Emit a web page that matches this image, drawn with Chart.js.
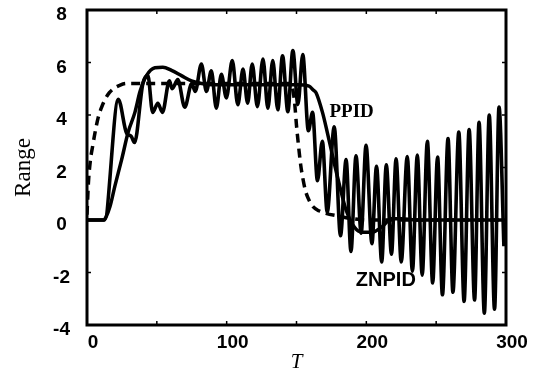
<!DOCTYPE html>
<html>
<head>
<meta charset="utf-8">
<script src="https://cdn.jsdelivr.net/npm/chart.js@4.4.1/dist/chart.umd.min.js"></script>
<style>
  html, body { margin: 0; padding: 0; background: #fff; }
  #wrap { width: 542px; height: 375px; }
</style>
</head>
<body>
<div id="wrap"><canvas id="rangeChart" width="542" height="375"></canvas></div>
<script>
/* ====== data: [T, Range] ====== */
const xTicks = [0, 100, 200, 300];
const yTicks = [-4, -2, 0, 2, 4, 6, 8];

// dashed reference trajectory
const reference = [
  [0, 0.2], [1, 1.4], [2.5, 2.3], [4, 2.8], [6, 3.4], [8, 3.9], [10.5, 4.3], [13, 4.6],
  [16, 4.85], [19, 5.0], [23, 5.12], [28, 5.2], [40, 5.2], [100, 5.2], [145, 5.2],
  [147, 5.05], [148.6, 4.5], [150, 3.6], [151.5, 2.8], [153, 2.1], [154.5, 1.6],
  [156.5, 1.1], [159, 0.75], [162, 0.5], [166, 0.35], [171, 0.25], [180, 0.15],
  [190, 0.05], [200, 0], [300, 0]
];

// smooth solid curve (PPID)
const ppid = [
  [0, 0], [12, 0], [13.5, 0.1], [16.4, 0.5], [20, 1.3], [24.8, 2.3], [29.5, 3.35],
  [34.3, 4.1], [38, 4.9], [42.6, 5.5], [48.6, 5.8], [54.3, 5.82], [60.5, 5.7],
  [67.6, 5.5], [74.8, 5.3], [82, 5.2], [90, 5.15], [150, 5.15], [159, 5.1],
  [162, 4.95], [164, 4.85], [168.6, 4.1], [172, 3.35], [175.8, 2.45], [181, 1.28],
  [185.5, 0.38], [191.4, -0.27], [197, -0.47], [204, -0.47], [211, -0.27],
  [218, 0.05], [225, 0.05], [235, 0], [300, 0]
];

// oscillating solid curve (ZNPID)
const znpid = [
  [0, 0], [12.5, 0], [22.4, 4.6], [28.4, 3.3], [31.5, 3.2], [34, 2.95], [40, 5.2],
  [43.6, 5.5], [47, 4.1], [50.7, 4.45], [54, 4.1], [59, 5.3], [61, 5.0], [65, 5.35],
  [70, 4.3], [75, 5.2], [77.5, 4.9], [81.9, 5.94], [85.5, 4.9], [89, 5.68],
  [92.6, 4.26], [96.2, 5.55], [99.8, 4.65], [104, 6.07], [108, 4.39], [111.7, 5.75],
  [115, 4.45], [118.3, 5.94], [122, 4.32], [126, 6.13], [129.5, 4.26], [133, 6.07],
  [136.6, 4.2], [140, 6.26], [143.8, 4.13], [147.4, 6.46], [151, 4.4], [154.5, 6.3],
  [158.5, 3.4], [161.5, 4.1], [165, 1.5], [168.5, 3.0], [172, 0.3], [177, 3.55],
  [181.5, -0.6], [185.5, 2.3], [189, -1.2], [192.6, 2.45], [196.3, -0.5], [199.8, 2.85],
  [204, -0.9], [207.3, 2.05], [211, -1.6], [214.3, 2.1], [218, -1.3], [221.3, 2.33],
  [225, -1.6], [229.3, 2.42], [233, -1.95], [236.5, 2.47], [240, -2.1], [243.7, 3.0],
  [247.5, -2.4], [251, 2.4], [254.5, -2.85], [258.5, 3.1], [262, -2.75], [266.2, 3.35],
  [270, -3.1], [273.6, 3.45], [277.5, -3.05], [280.7, 3.72], [284.5, -3.55], [288, 4.0],
  [291.8, -3.4], [295, 4.3], [298.5, -1.0]
];

const toPoints = arr => arr.map(p => ({ x: p[0], y: p[1] }));

/* ====== frame, inward ticks and curve labels ====== */
const framePlugin = {
  id: 'frame',
  afterDatasetsDraw(chart) {
    const { ctx, chartArea: a, scales: { x, y } } = chart;
    ctx.save();
    ctx.strokeStyle = '#000';
    ctx.lineWidth = 1.5;
    ctx.beginPath();
    for (let t = 0; t <= 300; t += 50) {
      const px = x.getPixelForValue(t);
      ctx.moveTo(px, a.bottom); ctx.lineTo(px, a.bottom - 4);
      ctx.moveTo(px, a.top); ctx.lineTo(px, a.top + 4);
    }
    for (let v = -4; v <= 8; v += 2) {
      const py = y.getPixelForValue(v);
      ctx.moveTo(a.left, py); ctx.lineTo(a.left + 4, py);
      ctx.moveTo(a.right, py); ctx.lineTo(a.right - 4, py);
    }
    ctx.stroke();
    ctx.lineWidth = 3;
    ctx.strokeRect(a.left, a.top, a.right - a.left, a.bottom - a.top);

    ctx.fillStyle = '#000';
    ctx.textBaseline = 'middle';
    ctx.textAlign = 'left';
    ctx.font = 'bold 19px "Liberation Serif", serif';
    ctx.fillText('PPID', x.getPixelForValue(173.6), y.getPixelForValue(4.1));
    ctx.font = 'bold 20px "Liberation Sans", Arial, sans-serif';
    ctx.fillText('ZNPID', x.getPixelForValue(192.5), y.getPixelForValue(-2.3));
    ctx.restore();
  }
};

const tickFont = { family: '"Liberation Sans", Arial, sans-serif', size: 19, weight: 'bold' };

new Chart(document.getElementById('rangeChart'), {
  type: 'line',
  data: {
    datasets: [
      { label: 'Reference', data: toPoints(reference), borderColor: '#000', borderWidth: 3.5,
        borderDash: [9, 6], pointRadius: 0, cubicInterpolationMode: 'monotone', fill: false },
      { label: 'PPID', data: toPoints(ppid), borderColor: '#000', borderWidth: 3.5,
        pointRadius: 0, cubicInterpolationMode: 'monotone', fill: false },
      { label: 'ZNPID', data: toPoints(znpid), borderColor: '#000', borderWidth: 3.6,
        pointRadius: 0, cubicInterpolationMode: 'monotone', fill: false }
    ]
  },
  options: {
    responsive: false,
    animation: false,
    layout: { padding: { left: 0, right: 36, top: 10, bottom: 0 } },
    plugins: { legend: { display: false }, tooltip: { enabled: false } },
    scales: {
      x: {
        type: 'linear', min: 0, max: 300,
        grid: { display: false, drawTicks: false },
        border: { display: false },
        afterBuildTicks: s => { s.ticks = xTicks.map(v => ({ value: v })); },
        afterFit: s => { s.height = 50; s.paddingLeft = 0; s.paddingRight = 0; },
        ticks: { color: '#000', font: tickFont, padding: 6, labelOffset: 6, maxRotation: 0 },
        title: { display: true, text: 'T', color: '#000', padding: { top: 0, bottom: 0 },
          font: { family: '"Liberation Serif", serif', size: 21, style: 'italic' } }
      },
      y: {
        min: -4, max: 8,
        grid: { display: false, drawTicks: false },
        border: { display: false },
        afterBuildTicks: s => { s.ticks = yTicks.map(v => ({ value: v })); },
        afterFit: s => { s.width = 87; s.paddingTop = 0; s.paddingBottom = 0; },
        ticks: { color: '#000', font: tickFont, padding: 17, crossAlign: 'center', labelOffset: 5 },
        title: { display: true, text: 'Range', color: '#000', padding: { top: 10, bottom: 0 },
          font: { family: '"Liberation Serif", serif', size: 23 } }
      }
    }
  },
  plugins: [framePlugin]
});
</script>
</body>
</html>
